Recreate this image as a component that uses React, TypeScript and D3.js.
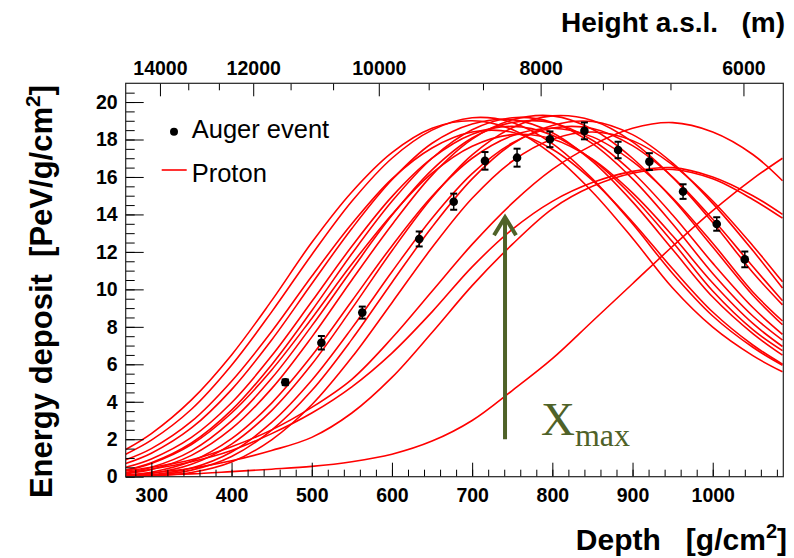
import React, { useEffect, useRef } from 'react';
import * as d3 from 'd3';

// depth grid (g/cm2) the proton profiles were read at
const depthGrid = [268, 300, 350, 400, 450, 500, 550, 600, 650, 700, 750, 800, 850, 900, 950, 1000, 1050, 1087];

// energy deposit (PeV/g/cm2) of each simulated proton shower
const protonCurves = [
  [1.45, 2.3, 4.1, 6.5, 9.4, 12.5, 15.2, 17.3, 18.6, 19.0, 18.53, 17.2, 15.2, 12.73, 10.07, 7.98, 6.46, 5.6],
  [1.2, 1.95, 3.6, 5.95, 8.8, 11.85, 14.7, 17.0, 18.5, 19.16, 18.91, 17.78, 15.9, 13.5, 10.85, 8.58, 6.91, 5.95],
  [0.9, 1.5, 2.95, 5.1, 7.75, 10.7, 13.5, 15.9, 17.55, 18.4, 18.39, 17.48, 15.82, 13.6, 11.1, 8.79, 7.03, 6.01],
  [0.7, 1.25, 2.6, 4.65, 7.3, 10.3, 13.25, 15.85, 17.8, 18.83, 19.06, 18.36, 16.83, 14.67, 12.13, 9.59, 7.64, 6.49],
  [0.5, 0.95, 2.1, 3.95, 6.45, 9.35, 12.3, 14.95, 17.0, 18.28, 18.7, 18.23, 16.92, 14.96, 12.53, 9.91, 7.85, 6.73],
  [0.33, 0.71, 1.72, 3.4, 5.7, 8.45, 11.35, 14.0, 16.2, 17.64, 18.26, 18.03, 16.95, 15.15, 12.86, 10.34, 8.18, 6.95],
  [0.35, 0.74, 1.8, 3.55, 5.98, 8.86, 11.9, 14.7, 17.0, 18.52, 19.16, 18.91, 17.78, 15.9, 13.49, 10.85, 8.58, 7.29],
  [0.22, 0.5, 1.38, 2.98, 5.25, 8.05, 11.05, 13.95, 16.38, 18.08, 18.91, 18.89, 17.96, 16.25, 13.97, 11.4, 9.03, 7.6],
  [0.15, 0.38, 1.14, 2.56, 4.7, 7.45, 10.5, 13.45, 16.1, 18.02, 19.05, 19.26, 18.55, 17.0, 14.82, 12.26, 9.69, 8.11],
  [0.09, 0.24, 0.82, 2.03, 3.93, 6.45, 9.38, 12.32, 14.97, 17.0, 18.2, 18.6, 18.14, 16.83, 14.88, 12.46, 9.86, 8.31],
  [0.06, 0.17, 0.66, 1.74, 3.53, 6.0, 8.97, 12.06, 14.9, 17.18, 18.63, 19.26, 19.01, 17.87, 15.98, 13.57, 10.9, 9.17],
  [0.03, 0.1, 0.46, 1.32, 2.9, 5.15, 7.93, 10.94, 13.8, 16.18, 17.81, 18.61, 18.59, 17.67, 15.99, 13.74, 11.22, 9.39],
  [0.02, 0.07, 0.35, 1.08, 2.49, 4.6, 7.33, 10.37, 13.33, 15.9, 17.76, 18.75, 18.96, 18.26, 16.74, 14.59, 12.07, 10.07],
  [0.01, 0.04, 0.22, 0.78, 1.97, 3.84, 6.37, 9.29, 12.23, 14.86, 16.84, 18.01, 18.4, 17.94, 16.65, 14.72, 12.33, 10.4],
  [0.3, 0.5, 0.9, 1.6, 2.5, 3.7, 5.2, 7.4, 9.9, 12.4, 14.6, 16.4, 17.7, 18.6, 18.9, 18.4, 17.2, 15.8],
  [0.2, 0.4, 0.8, 1.4, 2.3, 3.4, 4.8, 6.6, 8.8, 11.2, 13.2, 14.7, 15.7, 16.3, 16.5, 16.0, 15.0, 14.0],
  [0.1, 0.2, 0.45, 0.85, 1.4, 2.1, 3.4, 5.3, 7.7, 10.2, 12.4, 14.3, 15.5, 16.2, 16.4, 15.9, 14.8, 13.8],
  [0.05, 0.08, 0.15, 0.27, 0.4, 0.55, 0.8, 1.2, 1.9, 3.0, 4.6, 6.3, 8.3, 10.3, 12.3, 14.2, 15.9, 17.0],
];

// Auger event
const augerDepth = [467, 512, 563, 634, 677, 716, 756, 797, 840, 882, 921, 963, 1005, 1040];
const augerEnergy = [5.04, 7.15, 8.76, 12.69, 14.68, 16.86, 17.03, 18.01, 18.46, 17.44, 16.82, 15.22, 13.49, 11.6];
const augerError = [0.15, 0.36, 0.32, 0.4, 0.43, 0.47, 0.48, 0.42, 0.45, 0.44, 0.45, 0.39, 0.36, 0.42];

// top axis: height a.s.l. (m) and the depth it sits at
const heightTicks = [14000, 13333, 12667, 12000, 11333, 10667, 10000, 9333, 8667, 8000, 7333, 6667, 6000];
const heightTickDepth = [310.7, 346, 384.2, 427, 473.6, 526.6, 583.6, 645.8, 713.5, 785.4, 863, 947.3, 1038.3];
const heightLabels = [14000, 12000, 10000, 8000, 6000];

// Xmax arrow (depth, from, to)
const xmaxDepth = 741;
const xmaxArrow = [2.0, 13.9];

const W = 794;
const H = 558;
const plot = { left: 125.7, top: 83.3, right: 783.3, bottom: 476.7 };
const sans = "'Liberation Sans', Arial, Helvetica, sans-serif";
const serif = "'Liberation Serif', 'Times New Roman', serif";
const olive = '#4f6228';

const App = () => {
  const svgRef = useRef<SVGSVGElement>(null);

  useEffect(() => {
    const svg = d3.select(svgRef.current);
    svg.selectAll('*').remove();

    const x = d3.scaleLinear().domain([268, 1088]).range([plot.left, plot.right]);
    const y = d3.scaleLinear().domain([0, 21]).range([plot.bottom, plot.top]);

    svg.append('rect').attr('width', W).attr('height', H).attr('fill', 'white');

    svg.append('defs').append('clipPath').attr('id', 'plotclip')
      .append('rect')
      .attr('x', plot.left).attr('y', plot.top)
      .attr('width', plot.right - plot.left).attr('height', plot.bottom - plot.top);

    // proton profiles
    const line = d3.line<number>()
      .x((_, i) => x(depthGrid[i]))
      .y((d) => y(d))
      .curve(d3.curveCatmullRom.alpha(0.5));

    svg.append('g').attr('clip-path', 'url(#plotclip)')
      .selectAll('path')
      .data(protonCurves)
      .join('path')
      .attr('d', (d) => line(d))
      .attr('fill', 'none')
      .attr('stroke', '#ff0000')
      .attr('stroke-width', 1.6);

    const styleAxis = (g: any, size: number) => {
      g.select('.domain').remove();
      g.selectAll('line').attr('stroke', '#000').attr('stroke-width', 1);
      g.selectAll('text')
        .attr('font-family', sans)
        .attr('font-weight', 'bold')
        .attr('font-size', size)
        .attr('fill', '#000');
    };

    // bottom axis
    const bottom = svg.append('g').attr('transform', `translate(0,${plot.bottom})`);
    bottom.append('g')
      .call(d3.axisBottom(x).tickValues(d3.range(280, 1088, 20)).tickSize(-7).tickFormat(() => ''))
      .call((g) => styleAxis(g, 19.5));
    bottom.append('g')
      .call(d3.axisBottom(x).tickValues(d3.range(300, 1001, 100)).tickSize(-14).tickPadding(11).tickFormat(d3.format('d')))
      .call((g) => styleAxis(g, 19.5));

    // left axis
    const left = svg.append('g').attr('transform', `translate(${plot.left},0)`);
    left.append('g')
      .call(d3.axisLeft(y).tickValues(d3.range(0, 21, 0.5)).tickSize(-9).tickFormat(() => ''))
      .call((g) => styleAxis(g, 19.5));
    left.append('g')
      .call(d3.axisLeft(y).tickValues(d3.range(0, 21, 2)).tickSize(-18).tickPadding(8).tickFormat(d3.format('d')))
      .call((g) => styleAxis(g, 19.5));

    // top axis: height a.s.l.
    const h = d3.scaleLinear().domain(heightTicks).range(heightTickDepth.map((d) => x(d)));
    const top = svg.append('g').attr('transform', `translate(0,${plot.top})`);
    top.append('g')
      .call(d3.axisTop(h).tickValues(heightTicks.filter((t) => !heightLabels.includes(t))).tickSize(-7).tickFormat(() => ''))
      .call((g) => styleAxis(g, 19.5));
    top.append('g')
      .call(d3.axisTop(h).tickValues(heightLabels).tickSize(-13).tickPadding(8).tickFormat(d3.format('d')))
      .call((g) => styleAxis(g, 19.5));

    // frame
    svg.append('rect')
      .attr('x', plot.left).attr('y', plot.top)
      .attr('width', plot.right - plot.left).attr('height', plot.bottom - plot.top)
      .attr('fill', 'none').attr('stroke', '#222').attr('stroke-width', 1.2);

    // Xmax arrow
    const ax = x(xmaxDepth);
    const tipY = y(xmaxArrow[1]);
    svg.append('line')
      .attr('x1', ax).attr('x2', ax)
      .attr('y1', y(xmaxArrow[0])).attr('y2', tipY + 1)
      .attr('stroke', olive).attr('stroke-width', 4);
    svg.append('path')
      .attr('d', `M${ax - 11},${tipY + 19}L${ax},${tipY + 1}L${ax + 11},${tipY + 19}`)
      .attr('fill', 'none').attr('stroke', olive).attr('stroke-width', 4)
      .attr('stroke-linejoin', 'miter');
    const xt = svg.append('text')
      .attr('x', ax + 36).attr('y', 435)
      .attr('font-family', serif).attr('font-size', 47).attr('fill', olive);
    xt.append('tspan').text('X');
    xt.append('tspan').attr('font-size', 32).attr('dy', 11).text('max');

    // Auger points
    const pts = svg.append('g');
    augerDepth.forEach((d, i) => {
      const px = x(d);
      const y1 = y(augerEnergy[i] - augerError[i]);
      const y2 = y(augerEnergy[i] + augerError[i]);
      pts.append('line').attr('x1', px).attr('x2', px).attr('y1', y1).attr('y2', y2)
        .attr('stroke', '#000').attr('stroke-width', 1.5);
      [y1, y2].forEach((cy) => {
        pts.append('line').attr('x1', px - 3.5).attr('x2', px + 3.5).attr('y1', cy).attr('y2', cy)
          .attr('stroke', '#000').attr('stroke-width', 2);
      });
      pts.append('circle').attr('cx', px).attr('cy', y(augerEnergy[i])).attr('r', 4.3).attr('fill', '#000');
    });

    // legend
    const lg = svg.append('g').attr('font-family', sans).attr('font-size', 25.5).attr('fill', '#000');
    lg.append('circle').attr('cx', 174).attr('cy', 131.7).attr('r', 4).attr('fill', '#000');
    lg.append('text').attr('x', 191.7).attr('y', 138.3).text('Auger event');
    lg.append('line').attr('x1', 161.7).attr('x2', 186.7).attr('y1', 170).attr('y2', 170)
      .attr('stroke', '#ff0000').attr('stroke-width', 1.6);
    lg.append('text').attr('x', 191.7).attr('y', 181.7).text('Proton');

    // axis titles
    const xTitle = svg.append('text')
      .attr('x', 787).attr('y', 550).attr('text-anchor', 'end')
      .attr('font-family', sans).attr('font-weight', 'bold').attr('font-size', 30)
      .style('white-space', 'pre');
    xTitle.append('tspan').text('Depth   [g/cm');
    xTitle.append('tspan').attr('font-size', 20).attr('dy', -12).text('2');
    xTitle.append('tspan').attr('dy', 12).text(']');

    const yTitle = svg.append('text')
      .attr('transform', 'translate(52,85) rotate(-90)')
      .attr('text-anchor', 'end')
      .attr('font-family', sans).attr('font-weight', 'bold').attr('font-size', 31)
      .style('white-space', 'pre');
    yTitle.append('tspan').text('Energy deposit  [PeV/g/cm');
    yTitle.append('tspan').attr('font-size', 21).attr('dy', -12).text('2');
    yTitle.append('tspan').attr('dy', 12).text(']');

    svg.append('text')
      .attr('x', 785).attr('y', 32).attr('text-anchor', 'end')
      .attr('font-family', sans).attr('font-weight', 'bold').attr('font-size', 28)
      .style('white-space', 'pre')
      .text('Height a.s.l.   (m)');
  }, []);

  return (
    <svg
      ref={svgRef}
      width={W}
      height={H}
      style={{ position: 'absolute', left: 0, top: 0, display: 'block' }}
    />
  );
};

export default App;
